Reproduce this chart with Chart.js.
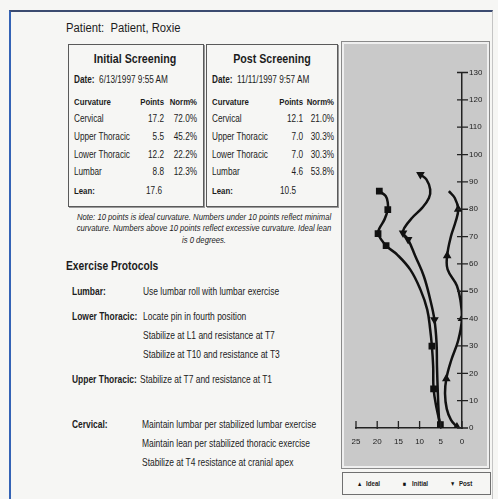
<!DOCTYPE html>
<html>
<head>
<title>Spinal Curvature Report</title>
<script src="https://cdnjs.cloudflare.com/ajax/libs/Chart.js/4.4.1/chart.umd.min.js"></script>
<style>
  body {
    margin: 0;
    width: 498px;
    height: 499px;
    position: relative;
    overflow: hidden;
    background: #f6f6f4;
    color: #1c1c1c;
    font-family: "Liberation Sans", Arial, sans-serif;
  }
  .frame {
    position: absolute;
    left: 9px;
    top: 10px;
    width: 481px;
    height: 500px;
    border-left: 2px solid #3463b5;
    border-top: 2px solid #3b4b70;
    border-right: 1px solid #c4c4c4;
  }
  .t {
    position: absolute;
    white-space: nowrap;
    line-height: 1;
  }
  .box {
    position: absolute;
    top: 44px;
    height: 161px;
    border: 1px solid #5a5a5a;
    box-shadow: 1px 1px 0 #9a9a9a;
  }
  .panel {
    position: absolute;
    left: 341px;
    top: 41px;
    width: 147px;
    height: 426px;
    border: 1px solid #8a8a8a;
    background: #c9c9c9;
    box-shadow: inset 0 0 0 2px #efefef;
  }
  .panel canvas {
    position: absolute;
    left: 1px;
    top: 1px;
  }
  .legend {
    position: absolute;
    left: 342px;
    top: 472px;
    width: 147px;
    height: 21px;
    border: 1px solid #707070;
    background: #f6f6f4;
  }
</style>
</head>
<body>
<div class="frame"></div>
<div class="box" style="left:68px;width:134px;"></div>
<div class="box" style="left:206px;width:130px;"></div>
<div class="panel"><canvas id="spineChart" width="146" height="425"></canvas></div>
<div class="legend"></div>
<div id="texts"></div>
<script>
  // table text
  const curvatureNames = ["Cervical", "Upper Thoracic", "Lower Thoracic", "Lumbar"];
  const initialPoints = ["17.2", "5.5", "12.2", "8.8"];
  const initialNorm = ["72.0%", "45.2%", "22.2%", "12.3%"];
  const postPoints = ["12.1", "7.0", "7.0", "4.6"];
  const postNorm = ["21.0%", "30.3%", "30.3%", "53.8%"];
  const initialLean = "17.6";
  const postLean = "10.5";
  const noteLines = [
    "Note: 10 points is ideal curvature. Numbers under 10 points reflect minimal",
    "curvature. Numbers above 10 points reflect excessive curvature. Ideal lean",
    "is 0 degrees.",
  ];
  const protocolLabels = ["Lumbar:", "Lower Thoracic:", "Upper Thoracic:", "Cervical:"];
  const protocolLines = [
    ["Use lumbar roll with lumbar exercise"],
    ["Locate pin in fourth position", "Stabilize at L1 and resistance at T7", "Stabilize at T10 and resistance at T3"],
    ["Stabilize at T7 and resistance at T1"],
    ["Maintain lumbar per stabilized lumbar exercise", "Maintain lean per stabilized thoracic exercise", "Stabilize at T4 resistance at cranial apex"],
  ];

  // spine curves: horizontal offset vs. level
  const idealOffset = [3.1, 1.7, 0.9, 1.5, 2.6, 3.5, 3.4, 1.2, 0.3, 0.0, 0.9, 2.6, 3.7, 4.0, 3.6, 2.6, 1.2];
  const idealLevel = [86.6, 84.1, 80.0, 75.5, 70.1, 63.0, 58.0, 52.0, 46.0, 40.0, 32.0, 24.5, 18.0, 12.5, 7.0, 3.0, 0.4];
  const idealMarks = [2, 5, 9, 12, 16];

  const initialOffset = [19.5, 18.0, 17.5, 17.5, 18.3, 19.4, 19.8, 17.9, 15.3, 12.2, 9.8, 8.2, 7.5, 7.1, 6.8, 6.7, 6.0, 5.1];
  const initialLevel = [86.6, 84.8, 82.3, 79.9, 76.2, 73.2, 71.1, 66.7, 63.4, 57.9, 50.6, 43.3, 36.0, 29.9, 22.6, 14.3, 7.3, 1.2];
  const initialMarks = [0, 3, 6, 7, 13, 15, 17];

  const postOffset = [9.8, 8.4, 7.5, 7.8, 9.4, 11.8, 13.6, 13.9, 12.7, 11.0, 9.0, 7.5, 6.5, 6.0, 5.9, 5.7, 5.5, 5.3];
  const postLevel = [92.7, 90.9, 87.2, 84.1, 80.5, 76.8, 73.2, 71.3, 68.9, 62.8, 55.5, 47.0, 39.6, 31.1, 22.6, 12.8, 5.5, 0.6];
  const postMarks = [0, 7, 8, 12];

  const levelTicks = [0, 10, 20, 30, 40, 50, 60, 70, 80, 90, 100, 110, 120, 130];
  const offsetTicks = [0, 5, 10, 15, 20, 25];

  const legendItems = [
    { sym: "\u25B2", name: "Ideal", x: 357 },
    { sym: "\u25A0", name: "Initial", x: 403 },
    { sym: "\u25BC", name: "Post", x: 450 },
  ];

  // ---- text layer (condensed with scaleX, the scan uses a narrow face) ----
  const texts = document.getElementById("texts");
  function put(str, x, y, size, opts) {
    opts = opts || {};
    const d = document.createElement("div");
    d.className = "t";
    if (opts.html) d.innerHTML = str;
    else d.textContent = str;
    d.style.left = x + "px";
    d.style.top = y + "px";
    d.style.fontSize = size + "px";
    let tx = "0", ox = "0";
    if (opts.align === "right") { tx = "-100%"; ox = "100%"; }
    if (opts.align === "center") { tx = "-50%"; ox = "50%"; }
    d.style.transformOrigin = ox + " 50%";
    d.style.transform = "translate(" + tx + ", -50%) scaleX(" + (opts.scale || 0.82) + ")";
    if (opts.bold) d.style.fontWeight = "bold";
    if (opts.italic) d.style.fontStyle = "italic";
    if (opts.color) d.style.color = opts.color;
    texts.appendChild(d);
    return d;
  }

  put("Patient:&nbsp; Patient, Roxie", 66, 28, 12.5, { html: true, scale: 0.9 });

  const rowY = [119, 137, 155, 172];
  function screening(title, date, points, norm, lean, cx, lx, px, nx, leanX) {
    put(title, cx, 58, 13, { align: "center", bold: true });
    put("<b>Date:</b>&nbsp; " + date, lx, 80, 10, { html: true });
    put("Curvature", lx, 102, 9.5, { bold: true });
    put("Points", px, 102, 9.5, { align: "right", bold: true });
    put("Norm%", nx, 102, 9.5, { align: "right", bold: true });
    curvatureNames.forEach((n, i) => {
      put(n, lx, rowY[i], 10);
      put(points[i], px, rowY[i], 10, { align: "right" });
      put(norm[i], nx, rowY[i], 10, { align: "right" });
    });
    put("Lean:", lx, 191, 9.5, { bold: true });
    put(lean, leanX, 191, 10, { align: "right" });
  }
  screening("Initial Screening", "6/13/1997 9:55 AM", initialPoints, initialNorm, initialLean, 135, 74, 164, 197, 162);
  screening("Post Screening", "11/11/1997 9:57 AM", postPoints, postNorm, postLean, 272, 212, 303, 334, 296);

  noteLines.forEach((line, i) => put(line, 204, 217 + i * 11.3, 9.4, { align: "center", italic: true }));

  put("Exercise Protocols", 66, 266, 12.5, { bold: true });
  const protocolY = [[292], [317, 336, 355], [380], [425, 444, 463]];
  const protocolX = [143, 143, 140, 142];
  protocolLabels.forEach((lab, i) => {
    put(lab, 72, protocolY[i][0], 10.3, { bold: true });
    protocolLines[i].forEach((line, j) => put(line, protocolX[i], protocolY[i][j], 10.3));
  });

  legendItems.forEach(it => {
    put(it.sym, it.x, 484, 6.5, { color: "#111" });
    put(it.name, it.x + 9, 484, 7.5, { bold: true });
  });

  // ---- chart ----
  const toPoints = (xs, ys) => xs.map((x, i) => ({ x: x, y: ys[i] }));
  const marked = (marks, r) => ctx => (marks.includes(ctx.dataIndex) ? r : 0);

  // tick marks that cross the axis lines
  const crossTicks = {
    id: "crossTicks",
    afterDraw(chart) {
      const { ctx, scales } = chart;
      const x = scales.x, y = scales.y;
      ctx.save();
      ctx.strokeStyle = "#222";
      ctx.lineWidth = 1.3;
      ctx.beginPath();
      levelTicks.forEach(v => {
        const py = y.getPixelForValue(v);
        ctx.moveTo(y.left - 5, py);
        ctx.lineTo(y.left + 6, py);
      });
      offsetTicks.forEach(v => {
        const px = x.getPixelForValue(v);
        ctx.moveTo(px, x.top - 7);
        ctx.lineTo(px, x.top + 1);
      });
      ctx.stroke();
      ctx.restore();
    },
  };

  const lineStyle = {
    showLine: true,
    borderColor: "#111",
    backgroundColor: "#111",
    borderWidth: 2.5,
    tension: 0.4,
    fill: false,
  };
  const tickFont = { family: "Liberation Sans", size: 8 };

  new Chart(document.getElementById("spineChart"), {
    type: "scatter",
    data: {
      datasets: [
        Object.assign({}, lineStyle, {
          label: "Ideal",
          data: toPoints(idealOffset, idealLevel),
          pointStyle: "triangle",
          pointRadius: marked(idealMarks, 2.5),
        }),
        Object.assign({}, lineStyle, {
          label: "Initial",
          data: toPoints(initialOffset, initialLevel),
          pointStyle: "rect",
          pointRadius: marked(initialMarks, 3),
        }),
        Object.assign({}, lineStyle, {
          label: "Post",
          data: toPoints(postOffset, postLevel),
          pointStyle: "triangle",
          pointRotation: 180,
          pointRadius: marked(postMarks, 2.5),
        }),
      ],
    },
    options: {
      responsive: false,
      animation: false,
      layout: { padding: { left: 13, top: 29.5, right: 7, bottom: 20 } },
      plugins: {
        legend: { display: false },
        tooltip: { enabled: false },
      },
      scales: {
        x: {
          type: "linear",
          min: 0,
          max: 25,
          reverse: true,
          afterFit: s => { s.height = 20; },
          afterBuildTicks: s => { s.ticks = offsetTicks.map(v => ({ value: v })); },
          grid: { display: false, drawTicks: false },
          border: { display: true, color: "#222", width: 1.5 },
          ticks: { padding: 9, color: "#222", font: tickFont },
        },
        y: {
          type: "linear",
          position: "right",
          min: 0,
          max: 130,
          afterFit: s => { s.width = 20; },
          afterBuildTicks: s => { s.ticks = levelTicks.map(v => ({ value: v })); },
          grid: { display: false, drawTicks: false },
          border: { display: true, color: "#222", width: 1.5 },
          ticks: { padding: 7, color: "#222", font: tickFont },
        },
      },
    },
    plugins: [crossTicks],
  });
</script>
</body>
</html>
